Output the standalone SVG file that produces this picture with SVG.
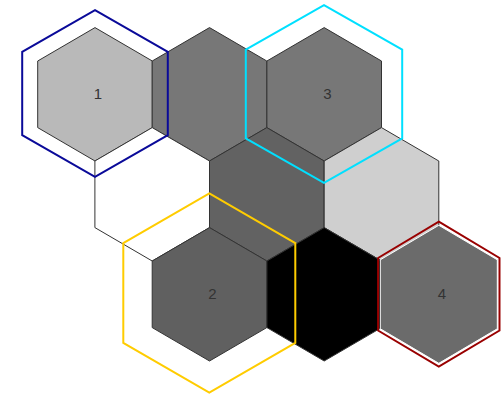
<svg xmlns="http://www.w3.org/2000/svg" width="502" height="394" viewBox="0 0 502 394">
<style>
.hex{stroke:#333333;stroke-width:1;stroke-linejoin:miter}
.ring{fill:none;stroke-width:2;stroke-linejoin:miter}
.lbl{font-family:"Liberation Sans",Arial,sans-serif;font-size:15px;fill:#333333;text-anchor:middle}
</style>
<rect width="502" height="394" fill="#ffffff"/>
<g id="nodes">
<g id="hex-1"><polygon class="hex" fill="#b9b9b9" points="95,27.6 152.3,61 152.3,127.6 95,161 37.7,127.6 37.7,61"/><text class="lbl" x="98" y="99.4">1</text></g>
<g id="hex-b"><polygon class="hex" fill="#777777" points="209.5,27.6 266.8,61 266.8,127.6 209.5,161 152.2,127.6 152.2,61"/></g>
<g id="hex-3"><polygon class="hex" fill="#777777" points="324.2,27.6 381.5,61 381.5,127.6 324.2,161 266.9,127.6 266.9,61"/><text class="lbl" x="327.5" y="99.4">3</text></g>
<g id="hex-d"><polygon class="hex" fill="#ffffff" points="152.2,127.6 209.5,161 209.5,227.6 152.2,261 94.9,227.6 94.9,161"/></g>
<g id="hex-e"><polygon class="hex" fill="#626262" points="266.8,127.6 324.1,161 324.1,227.6 266.8,261 209.5,227.6 209.5,161"/></g>
<g id="hex-f"><polygon class="hex" fill="#cfcfcf" points="381.5,127.6 438.8,161 438.8,227.6 381.5,261 324.2,227.6 324.2,161"/></g>
<g id="hex-2"><polygon class="hex" fill="#606060" points="209.5,227.6 266.8,261 266.8,327.6 209.5,361 152.2,327.6 152.2,261"/><text class="lbl" x="212.5" y="299.4">2</text></g>
<g id="hex-h"><polygon class="hex" fill="#000000" points="324.2,227.6 381.5,261 381.5,327.6 324.2,361 266.9,327.6 266.9,261"/></g>
<g id="hex-4"><polygon fill="#6b6b6b" stroke="#ffffff" stroke-width="1" points="438.8,225.3 497.3,259.8 497.3,328.8 438.8,363.3 380.3,328.8 380.3,259.8"/><text class="lbl" x="442" y="299.4">4</text></g>
</g>
<g id="highlights">
<polygon id="ring-1" class="ring" stroke="#0a0a99" points="95,10.2 167.8,51.9 167.8,135.2 95,176.8 22.2,135.2 22.2,51.9"/>
<polygon id="ring-3" class="ring" stroke="#00e0ff" points="324,5.2 402.2,49.6 402.2,138.4 324,182.8 245.8,138.4 245.8,49.6"/>
<polygon id="ring-2" class="ring" stroke="#ffcc00" points="209.3,193.3 295.3,243.2 295.3,342.9 209.3,392.7 123.3,342.9 123.3,243.2"/>
<polygon id="ring-4" class="ring" stroke="#990000" points="438.8,221.7 499.5,258 499.5,330.5 438.8,366.7 378.1,330.5 378.1,258"/>
</g>
<g id="connectors"/>
</svg>
